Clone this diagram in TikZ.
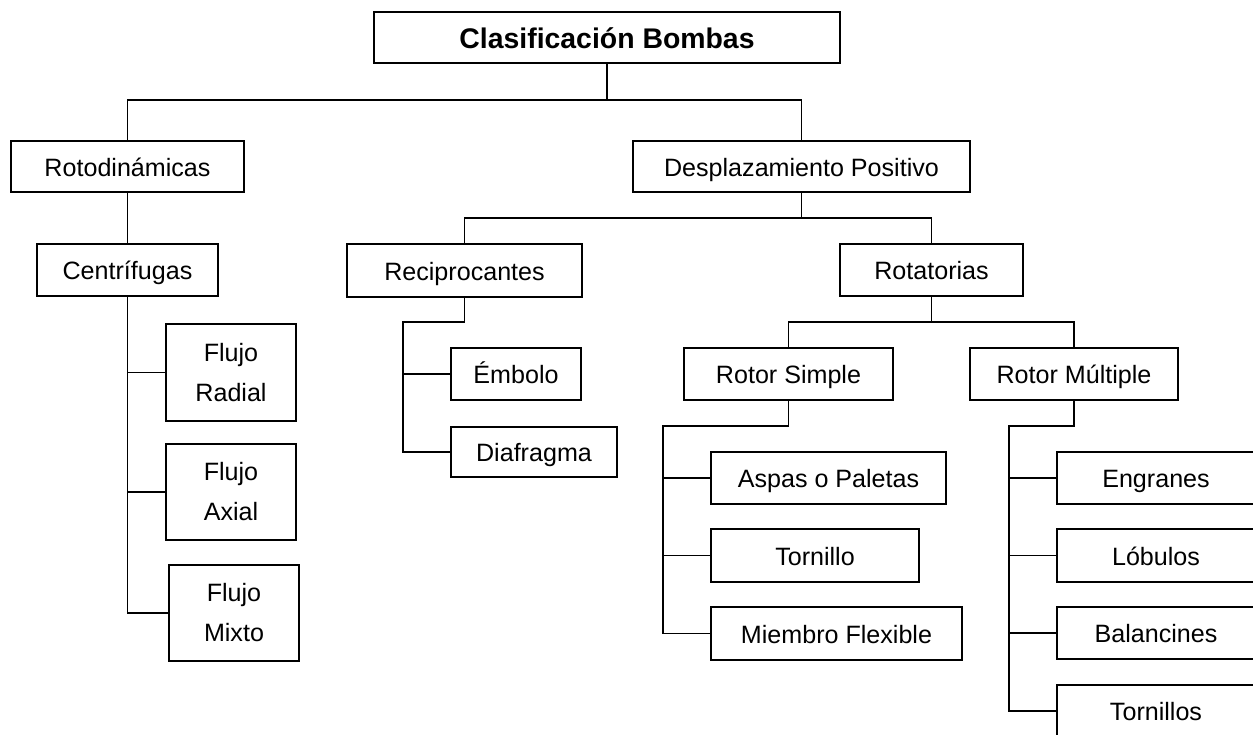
\documentclass[tikz,border=0pt]{standalone}
\usepackage{fontspec}
\setmainfont{Liberation Sans}
\begin{document}
\begin{tikzpicture}[x=1pt,y=-1pt,
  box/.style={draw=black,line width=1.9pt,rectangle,inner sep=0pt,anchor=center,
    font=\fontsize{25.1}{40}\selectfont,align=center},
  one/.style={box,text height=19pt,text depth=0pt},
  link/.style={draw=black,line width=1.9pt}]
\useasboundingbox (0,0) rectangle (1253,734);
\fill[white] (0,0) rectangle (1253,734);
\clip (0,0) rectangle (1253,734);
% nodes
\node[box,minimum width=466pt,minimum height=51pt,text height=21pt,text depth=0pt,font=\fontsize{28.4}{34}\selectfont\bfseries] (title) at (607,37.5) {Clasificación Bombas};
\node[one,minimum width=233pt,minimum height=51pt] (roto) at (127.5,166.5) {Rotodinámicas};
\node[one,minimum width=337pt,minimum height=51pt] (dp) at (801.5,166.5) {Desplazamiento Positivo};
\node[one,minimum width=181pt,minimum height=52pt] (centr) at (127.5,270) {Centrífugas};
\node[box,minimum width=130pt,minimum height=97pt] (radial) at (231,372.5) {Flujo\\Radial};
\node[box,minimum width=130pt,minimum height=96pt] (axial) at (231,492) {Flujo\\Axial};
\node[box,minimum width=130pt,minimum height=96pt] (mixto) at (234,613) {Flujo\\Mixto};
\node[one,minimum width=235pt,minimum height=53pt] (recip) at (464.5,270.5) {Reciprocantes};
\node[one,minimum width=130pt,minimum height=52pt] (embolo) at (516,374) {Émbolo};
\node[one,minimum width=166pt,minimum height=50pt] (diafragma) at (534,452) {Diafragma};
\node[one,minimum width=183pt,minimum height=52pt] (rotat) at (931.5,270) {Rotatorias};
\node[one,minimum width=209pt,minimum height=52pt] (rsimple) at (788.5,374) {Rotor Simple};
\node[one,minimum width=208pt,minimum height=52pt] (rmult) at (1074,374) {Rotor Múltiple};
\node[one,minimum width=235pt,minimum height=52pt] (aspas) at (828.5,478) {Aspas o Paletas};
\node[one,minimum width=208pt,minimum height=53pt] (tornillo) at (815,555.5) {Tornillo};
\node[one,minimum width=251pt,minimum height=53pt] (miembro) at (836.5,633.5) {Miembro Flexible};
\node[one,minimum width=198pt,minimum height=52pt] (engranes) at (1156,478) {Engranes};
\node[one,minimum width=198pt,minimum height=53pt] (lobulos) at (1156,555.5) {Lóbulos};
\node[one,minimum width=198pt,minimum height=52pt] (balancines) at (1156,633) {Balancines};
\node[one,minimum width=198pt,minimum height=52pt] (tornillos) at (1156,711) {Tornillos};
% junction coordinates
\coordinate (j1) at (607,100);
\coordinate (j2) at (801.5,218);
\coordinate (r1) at (403,322);
\coordinate (j3) at (931.5,322);
\coordinate (s1) at (663,426);
\coordinate (m1) at (1009,426);
% connectors
\draw[link] (title.south) -- (j1);
\draw[link] (roto.north) |- (j1) -| (dp.north);
\draw[link] (roto.south) -- (centr.north);
\draw[link] (centr.south) |- (mixto.west);
\draw[link] (centr.south |- radial.west) -- (radial.west);
\draw[link] (centr.south |- axial.west) -- (axial.west);
\draw[link] (dp.south) -- (j2);
\draw[link] (recip.north) |- (j2) -| (rotat.north);
\draw[link] (recip.south) |- (r1) |- (diafragma.west);
\draw[link] (r1 |- embolo.west) -- (embolo.west);
\draw[link] (rotat.south) -- (j3);
\draw[link] (rsimple.north) |- (j3) -| (rmult.north);
\draw[link] (rsimple.south) |- (s1) |- (miembro.west);
\draw[link] (s1 |- aspas.west) -- (aspas.west);
\draw[link] (s1 |- tornillo.west) -- (tornillo.west);
\draw[link] (rmult.south) |- (m1) |- (tornillos.west);
\draw[link] (m1 |- engranes.west) -- (engranes.west);
\draw[link] (m1 |- lobulos.west) -- (lobulos.west);
\draw[link] (m1 |- balancines.west) -- (balancines.west);
\end{tikzpicture}
\end{document}
